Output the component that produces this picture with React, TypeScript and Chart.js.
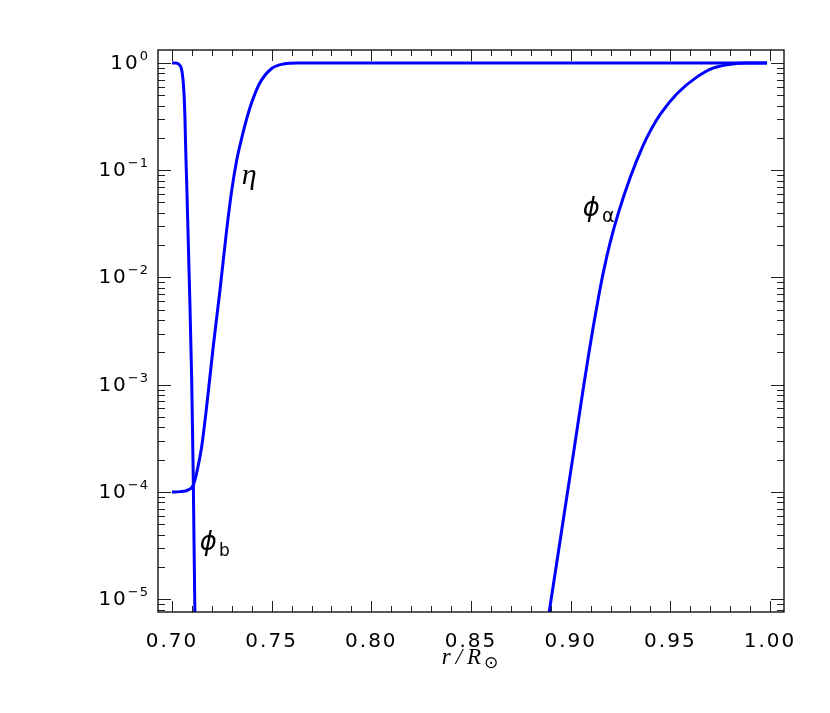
import React, { useEffect, useRef } from 'react';
import { Chart, registerables } from 'chart.js';

Chart.register(...registerables);

// ---- data ----
const phiBX = [0.7000, 0.7018, 0.7032, 0.7049, 0.7057, 0.7062, 0.7065, 0.7069, 0.7074, 0.7087, 0.7099, 0.7107, 0.7115, 0.7117];
const phiBY = [1.0, 0.998, 0.979, 0.86, 0.647, 0.452, 0.316, 0.1545, 0.0755, 9.5e-3, 1.11e-3, 1.29e-4, 7.6e-6, 5e-6];

const etaX = [0.7000, 0.7040, 0.7082, 0.7107, 0.7127, 0.7149, 0.7174, 0.7207, 0.7241, 0.7274, 0.7300, 0.7325, 0.7350, 0.7375, 0.7400, 0.7440, 0.7500, 0.7560, 0.7640, 0.7800, 0.9985];
const etaY = [1.0e-4, 1.007e-4, 1.045e-4, 1.16e-4, 1.60e-4, 2.64e-4, 6.24e-4, 2.26e-3, 7.64e-3, 0.02735, 0.0652, 0.1245, 0.1995, 0.302, 0.4266, 0.6457, 0.887, 0.977, 0.9977, 1.0, 1.0];

const phiAX = [0.8876, 0.8893, 0.8962, 0.9014, 0.9066, 0.9090, 0.9114, 0.9140, 0.9164, 0.9200, 0.9239, 0.9298, 0.9363, 0.9405, 0.9449, 0.9534, 0.9634, 0.9714, 0.9814, 0.9915, 0.9985];
const phiAY = [5.0e-6, 7.76e-6, 5.37e-5, 2.29e-4, 1.0e-3, 1.905e-3, 3.55e-3, 6.61e-3, 0.01122, 0.02188, 0.0398, 0.0851, 0.1698, 0.2427, 0.3311, 0.5188, 0.7413, 0.8954, 0.9795, 0.9977, 1.0];

const xTickValues = [0.70, 0.75, 0.80, 0.85, 0.90, 0.95, 1.00];
const yTickValues = [1e-5, 1e-4, 1e-3, 1e-2, 1e-1, 1];
const yTickExponents = ['−5', '−4', '−3', '−2', '−1', '0'];

const X_MIN = 0.693;
const X_MAX = 1.007;
const Y_MIN = 7.6e-6;
const Y_MAX = 1.32;

// curve labels: [main, subscript, x, y] (anchor in data coordinates)
const curveLabels: Array<[string, string, number, number]> = [
  ['η', '', 0.7350, 0.0744],
  ['ϕ', 'b', 0.7140, 2.88e-5],
  ['ϕ', 'α', 0.9061, 0.0375],
];

const toPts = (xs: number[], ys: number[]) => xs.map((x, i) => ({ x, y: ys[i] }));

const framePlugin = {
  id: 'frame',
  beforeDraw(chart: any) {
    chart.ctx.letterSpacing = '2px';
  },
  afterDraw(chart: any) {
    const { ctx, chartArea: a } = chart;
    const xs = chart.scales.x;
    const ys = chart.scales.y;
    ctx.save();
    ctx.letterSpacing = '0px';

    // ticks (inward, on all four sides)
    ctx.strokeStyle = '#222';
    ctx.lineWidth = 1;
    ctx.beginPath();
    for (let i = Math.ceil(X_MIN * 100); i <= Math.floor(X_MAX * 100); i++) {
      const px = Math.round(xs.getPixelForValue(i / 100)) + 0.5;
      const len = i % 5 === 0 ? 11 : 6;
      ctx.moveTo(px, a.bottom); ctx.lineTo(px, a.bottom - len);
      ctx.moveTo(px, a.top); ctx.lineTo(px, a.top + len);
    }
    for (let e = Math.floor(Math.log10(Y_MIN)); e <= Math.ceil(Math.log10(Y_MAX)); e++) {
      for (let k = 1; k <= 9; k++) {
        const v = k * Math.pow(10, e);
        if (v < Y_MIN || v > Y_MAX) continue;
        const py = Math.round(ys.getPixelForValue(v)) + 0.5;
        const len = k === 1 ? 13 : 7;
        ctx.moveTo(a.left, py); ctx.lineTo(a.left + len, py);
        ctx.moveTo(a.right, py); ctx.lineTo(a.right - len, py);
      }
    }
    ctx.stroke();

    // frame
    ctx.strokeStyle = '#000';
    ctx.lineWidth = 1.3;
    ctx.strokeRect(a.left, a.top, a.right - a.left, a.bottom - a.top);

    // y tick labels: 10 with superscript exponent
    ctx.fillStyle = '#000';
    ctx.textAlign = 'left';
    ctx.textBaseline = 'alphabetic';
    yTickValues.forEach((v, i) => {
      const py = ys.getPixelForValue(v);
      ctx.font = '20px "DejaVu Sans"';
      ctx.letterSpacing = '2px';
      const wBase = ctx.measureText('10').width;
      ctx.font = '13px "DejaVu Sans"';
      ctx.letterSpacing = '1px';
      const wExp = ctx.measureText(yTickExponents[i]).width;
      const right = a.left - 9;
      const start = right - wBase - wExp;
      ctx.font = '20px "DejaVu Sans"';
      ctx.letterSpacing = '2px';
      ctx.fillText('10', start, py + 6);
      ctx.font = '13px "DejaVu Sans"';
      ctx.letterSpacing = '1px';
      ctx.fillText(yTickExponents[i], start + wBase, py - 3);
    });
    ctx.letterSpacing = '0px';

    // curve labels
    for (const [main, sub, lx, ly] of curveLabels) {
      const px = xs.getPixelForValue(lx);
      const py = ys.getPixelForValue(ly);
      if (main === 'η') {
        ctx.font = 'italic 30px "Liberation Serif"';
        ctx.fillText(main, px, py);
      } else {
        ctx.font = 'italic 26px "DejaVu Sans"';
        ctx.fillText(main, px, py);
        const w = ctx.measureText(main).width;
        ctx.font = sub === 'b' ? '17px "DejaVu Sans"' : '19px "DejaVu Sans"';
        ctx.fillText(sub, px + w + 2, py + 6);
      }
    }

    // x-axis title r/R⊙
    const cx = (a.left + a.right) / 2;
    const base = a.bottom + 52;
    const main = 'r/R';
    ctx.font = 'italic 23px "Liberation Serif"';
    ctx.letterSpacing = '5px';
    const wMain = ctx.measureText(main).width;
    ctx.letterSpacing = '0px';
    ctx.font = '17px "DejaVu Sans"';
    const wSun = ctx.measureText('⊙').width;
    const start = cx - (wMain + wSun) / 2;
    ctx.font = 'italic 23px "Liberation Serif"';
    ctx.letterSpacing = '5px';
    ctx.fillText(main, start, base);
    ctx.letterSpacing = '0px';
    ctx.font = '17px "DejaVu Sans"';
    ctx.fillText('⊙', start + wMain - 2, base + 4);
    ctx.restore();
  },
};

export default function App() {
  const ref = useRef<HTMLCanvasElement>(null);
  useEffect(() => {
    if (!ref.current) return;
    const lineStyle = {
      showLine: true,
      borderColor: '#0000ff',
      backgroundColor: '#0000ff',
      borderWidth: 3,
      pointRadius: 0,
      cubicInterpolationMode: 'monotone' as const,
      borderJoinStyle: 'round' as const,
      fill: false,
    };
    const chart = new Chart(ref.current, {
      type: 'scatter',
      data: {
        datasets: [
          { label: 'phi_b', data: toPts(phiBX, phiBY), ...lineStyle },
          { label: 'eta', data: toPts(etaX, etaY), ...lineStyle },
          { label: 'phi_alpha', data: toPts(phiAX, phiAY), ...lineStyle },
        ],
      },
      options: {
        animation: false,
        responsive: true,
        maintainAspectRatio: false,
        layout: { padding: { top: 50, right: 46, left: 0, bottom: 0 } },
        plugins: { legend: { display: false }, tooltip: { enabled: false } },
        scales: {
          x: {
            type: 'linear',
            min: X_MIN,
            max: X_MAX,
            grid: { display: false, drawTicks: false },
            border: { display: false },
            afterBuildTicks: (s: any) => { s.ticks = xTickValues.map((v) => ({ value: v })); },
            afterFit: (s: any) => { s.height = 101; },
            ticks: {
              autoSkip: false,
              maxRotation: 0,
              padding: 18,
              color: '#000',
              font: { family: 'DejaVu Sans', size: 20 },
              callback: (v: any) => Number(v).toFixed(2),
            },
          },
          y: {
            type: 'logarithmic',
            min: Y_MIN,
            max: Y_MAX,
            grid: { display: false, drawTicks: false },
            border: { display: false },
            afterBuildTicks: (s: any) => { s.ticks = yTickValues.map((v) => ({ value: v })); },
            afterFit: (s: any) => { s.width = 158; },
            ticks: { display: false },
          },
        },
      },
      plugins: [framePlugin],
    });
    return () => chart.destroy();
  }, []);
  return (
    <div style={{ position: 'fixed', left: 0, top: 0, width: 830, height: 713, background: '#fff' }}>
      <canvas ref={ref} />
    </div>
  );
}
